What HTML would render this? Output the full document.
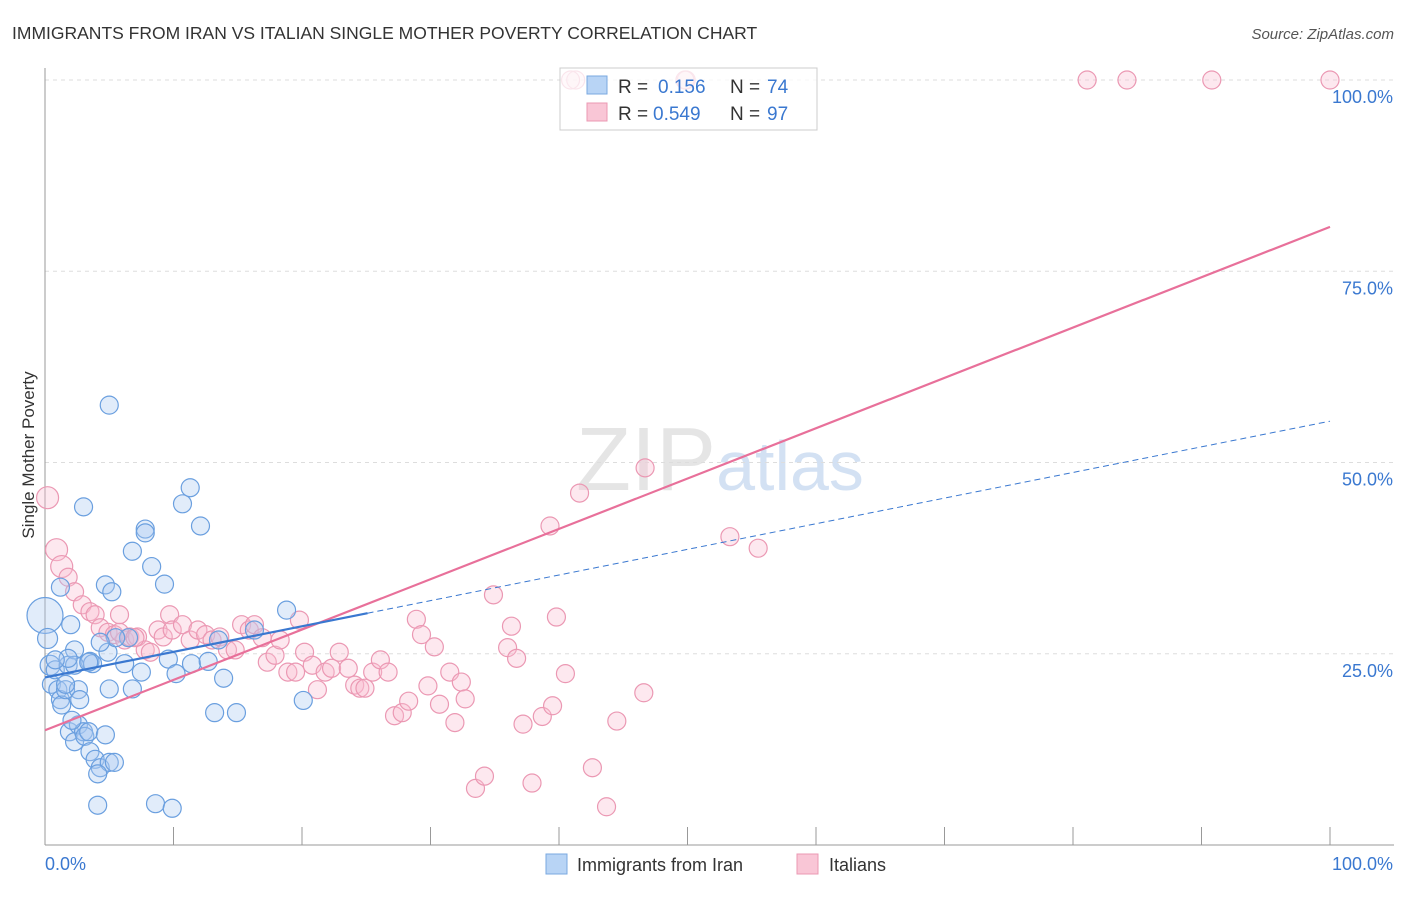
<!DOCTYPE html>
<html><head><meta charset="utf-8"><style>
body{margin:0;background:#fff;font-family:"Liberation Sans",sans-serif;}
svg text{font-family:"Liberation Sans",sans-serif;}
</style></head><body>
<svg id="c" width="1406" height="892">
<text x="12" y="39" font-size="17.5" fill="#333">IMMIGRANTS FROM IRAN VS ITALIAN SINGLE MOTHER POVERTY CORRELATION CHART</text>
<text x="1394" y="39" font-size="15" fill="#555" font-style="italic" text-anchor="end">Source: ZipAtlas.com</text>
<text x="34" y="455" font-size="17" fill="#333" transform="rotate(-90 34 455)" text-anchor="middle">Single Mother Poverty</text>
<text x="720" y="490" font-size="90" fill="#ccc" opacity="0.5" text-anchor="middle" font-family="Liberation Serif">ZIP<tspan fill="#a8c4e8" font-family="Liberation Sans" font-size="70">atlas</tspan></text>
<g id="grid"></g><g id="marks"></g>
<g>
<rect x="560" y="68" width="257" height="62" fill="#fff" fill-opacity="0.75" stroke="#ccc"/>
<rect x="587" y="76" width="20" height="18" fill="#b8d4f5" stroke="#7aa8e0"/>
<rect x="587" y="103" width="20" height="18" fill="#f9c6d6" stroke="#eb98b3"/>
<text x="618" y="93" font-size="19" fill="#333">R =</text><text x="658" y="93" font-size="19" fill="#3a78d0">0.156</text>
<text x="730" y="93" font-size="19" fill="#333">N =</text><text x="767" y="93" font-size="19" fill="#3a78d0">74</text>
<text x="618" y="120" font-size="19" fill="#333">R =</text><text x="653" y="120" font-size="19" fill="#3a78d0">0.549</text>
<text x="730" y="120" font-size="19" fill="#333">N =</text><text x="767" y="120" font-size="19" fill="#3a78d0">97</text>
</g>
<g>
<rect x="546" y="854" width="21" height="20" fill="#b8d4f5" stroke="#7aa8e0"/>
<text x="577" y="871" font-size="18" fill="#333">Immigrants from Iran</text>
<rect x="797" y="854" width="21" height="20" fill="#f9c6d6" stroke="#eb98b3"/>
<text x="829" y="871" font-size="18" fill="#333">Italians</text>
</g>
</svg>
<script>
const yTicks=[25,50,75,100];
const xTickLabels=["0.0%","100.0%"];
const iranX=[0,0.2,0.4,0.5,0.8,1,1.2,1.3,1.6,1.8,2,2.3,2.6,2.7,1.9,2.3,2.6,3,3.1,3.4,3.5,3.9,4.3,4.7,5,5.4,4.1,4.1,1.2,3,5,4.7,5.2,6.8,7.8,7.8,8.3,9.3,10.7,11.3,12.1,3.5,3.7,4.9,5,6.2,6.8,7.5,9.6,10.2,11.4,12.7,13.9,13.2,14.9,13.5,16.3,18.8,20.1,8.6,9.9,6.5,5.5,4.3,2.3,1.8,0.8,1.6,3.4,2.1];
const iranY=[30,27,23.5,21,22.9,20.3,19,18.3,20.3,23.5,28.8,25.5,20.3,19,14.8,13.5,15.7,14.8,14.2,14.8,12.2,11.2,10.1,14.4,10.8,10.8,9.3,5.2,33.7,44.2,57.5,34,33.1,38.4,41.3,40.8,36.4,34.1,44.6,46.7,41.7,24,23.7,25.2,20.4,23.7,20.4,22.6,24.3,22.4,23.7,24,21.8,17.3,17.3,26.8,28.1,30.7,18.9,5.4,4.8,27.1,27.1,26.5,23.5,24.4,24.2,21,23.9,16.3];
const iranR=[18,10,10,9,9,9,9,9,9,9,9,9,9,9,9,9,9,9,9,9,9,9,9,9,9,9,9,9,9,9,9,9,9,9,9,9,9,9,9,9,9,9,9,9,9,9,9,9,9,9,9,9,9,9,9,9,9,9,9,9,9,9,9,9,9,9,9,9,9,9];
const itaX=[41.3,49.9,0.2,0.9,1.3,1.8,2.3,2.9,3.5,3.9,4.3,4.9,5.4,5.8,6.2,6.6,7.2,7.8,8.2,8.8,9.2,9.7,9.9,10.7,11.3,11.9,12.5,13,13.6,14.2,14.8,15.3,15.9,16.3,16.9,17.3,17.9,18.3,18.9,19.5,19.8,20.2,20.8,21.2,21.8,22.3,22.9,23.6,24.1,24.5,24.9,25.5,26.1,26.7,27.2,27.8,28.3,28.9,29.3,29.8,30.3,30.7,31.5,31.9,32.4,32.7,33.5,34.2,34.9,36,36.3,36.7,37.2,37.9,38.7,39.5,39.3,39.8,40.5,41.6,42.6,43.7,44.5,46.6,46.7,53.3,55.5,40.9,49.8,81.1,84.2,90.8,100,5.8,7];
const itaY=[100,100,45.4,38.6,36.4,35,33.1,31.4,30.5,30.1,28.4,27.8,27.5,30.1,26.8,27.2,27.2,25.5,25.2,28.1,27.2,30.1,28.1,28.8,26.8,28.1,27.5,26.8,27.2,25.5,25.5,28.8,28.1,28.8,27.1,23.9,24.8,26.8,22.6,22.6,29.4,25.2,23.5,20.3,22.6,23.1,25.2,23.1,20.9,20.5,20.5,22.6,24.2,22.6,16.9,17.3,18.8,29.5,27.5,20.8,25.9,18.4,22.6,16,21.3,19.1,7.4,9,32.7,25.8,28.6,24.4,15.8,8.1,16.8,18.2,41.7,29.8,22.4,46,10.1,5.0,16.2,19.9,49.3,40.3,38.8,100,100,100,100,100,100,27.8,27.1];
const X0=45,X1=1330,Y0=845,Y100=80;
const sx=v=>X0+(X1-X0)*v/100, sy=v=>Y0-(Y0-Y100)*v/100;
const NS="http://www.w3.org/2000/svg";
function mk(p,t,a){const e=document.createElementNS(NS,t);for(const k in a)e.setAttribute(k,a[k]);p.appendChild(e);return e;}
const g=document.getElementById('grid'),m=document.getElementById('marks');
for(const t of yTicks){const l=mk(g,'line',{x1:X0,x2:1394,y1:sy(t),y2:sy(t),stroke:'#ddd','stroke-dasharray':'4,4'});


const tx=mk(g,'text',{x:1393,y:sy(t)+23,'font-size':18,fill:'#3a78d0','text-anchor':'end'});tx.textContent=t.toFixed(1)+'%';

}
mk(g,'line',{x1:X0,x2:X0,y1:68,y2:Y0,stroke:'#999'});
mk(g,'line',{x1:X0,x2:1394,y1:Y0,y2:Y0,stroke:'#999'});
for(let i=0;i<=10;i++){mk(g,'line',{x1:sx(i*10),x2:sx(i*10),y1:Y0,y2:Y0-18,stroke:'#999'});}
const a=mk(g,'text',{x:45,y:870,'font-size':18,fill:'#3a78d0'});a.textContent=xTickLabels[0];


const b=mk(g,'text',{x:1393,y:870,'font-size':18,fill:'#3a78d0','text-anchor':'end'});b.textContent=xTickLabels[1];


itaX.forEach((x,i)=>{const c=mk(m,'circle',{cx:sx(x),cy:sy(itaY[i]),r:(i>=2&&i<5)?11:9,fill:'rgba(249,190,210,0.35)',stroke:'#eb98b3','stroke-width':1.2});

});
iranX.forEach((x,i)=>{const c=mk(m,'circle',{cx:sx(x),cy:sy(iranY[i]),r:iranR[i],fill:'rgba(170,200,240,0.35)',stroke:'#6a9fdf','stroke-width':1.2});

});
const l1=mk(m,'line',{x1:sx(0),y1:sy(15),x2:sx(100),y2:sy(80.8),stroke:'#e8709a','stroke-width':2.2});


const l2=mk(m,'line',{x1:sx(0),y1:sy(21.9),x2:sx(25.1),y2:sy(30.3),stroke:'#3a78d0','stroke-width':2.2});


const l3=mk(m,'line',{x1:sx(25.1),y1:sy(30.3),x2:sx(100),y2:sy(55.4),stroke:'#3a78d0','stroke-width':1,'stroke-dasharray':'6,4'});


</script>
</body></html>
